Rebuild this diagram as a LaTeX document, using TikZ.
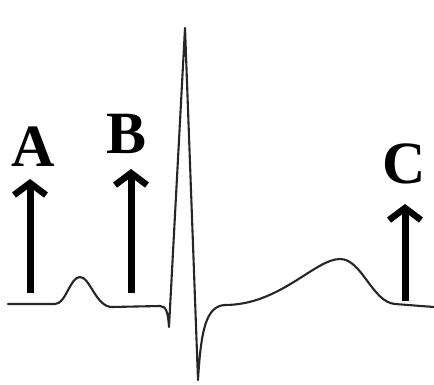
\documentclass[tikz,border=0pt]{standalone}
\usepackage{fontspec}
\setmainfont{Liberation Serif}
\usetikzlibrary{arrows.meta}
\begin{document}
\begin{tikzpicture}[x=1pt,y=-1pt,
  wave/.style={line width=2.1pt,line join=round,line cap=round,black!85},
  uparrow/.style={line width=7pt,-{Straight Barb[length=12pt,width=32pt,line width=6.5pt]}},
  lbl/.style={font=\fontsize{60}{60}\selectfont\bfseries,inner sep=0pt,anchor=base}]
\useasboundingbox (0,0) rectangle (434,385);
% waveform
\draw[wave] (8,304) -- (55,304)
  .. controls (66,304) and (70,277) .. (80,277)
  .. controls (90,277) and (96,307) .. (112,307)
  -- (160,306)
  .. controls (166,306) and (168,312) .. (169,327)
  -- (185,28) -- (198,380)
  .. controls (201,330) and (206,306) .. (225,305)
  .. controls (280,305) and (315,259) .. (340,259)
  .. controls (362,259) and (372,302) .. (395,304)
  -- (434,307);
% arrows
\coordinate (a0) at (30,293); \coordinate (a1) at (30,179);
\coordinate (b0) at (131,293); \coordinate (b1) at (131,169);
\coordinate (c0) at (405,301); \coordinate (c1) at (405,204);
\draw[uparrow] (a0) -- (a1);
\draw[uparrow] (b0) -- (b1);
\draw[uparrow] (c0) -- (c1);
% labels
\node[lbl] (A) at (33,167) {A};
\node[lbl] (B) at (127,154) {B};
\node[lbl] (C) at (404,183) {C};
\end{tikzpicture}
\end{document}
